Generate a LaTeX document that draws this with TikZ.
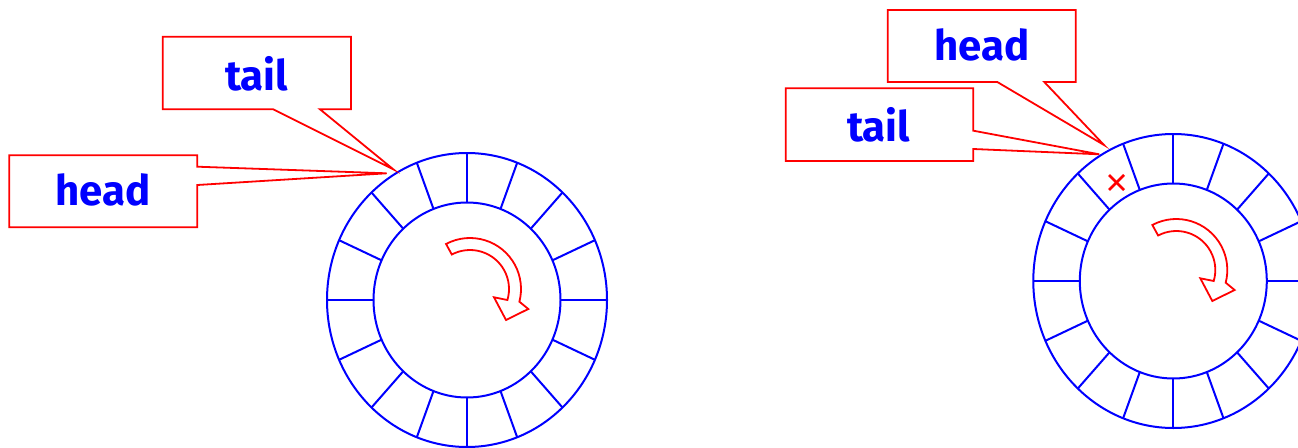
\documentclass[tikz,border=0pt]{standalone}
\usepackage{fontspec}
\setmainfont{Fira Sans}
\usetikzlibrary{calc}
\begin{document}
\begin{tikzpicture}[x=1pt,y=-1pt,
  ring/.style={draw=blue, line width=2pt},
  callout/.style={draw=red, line width=1.8pt, line join=miter},
  lbl/.style={text=blue, font=\fontsize{42}{50}\selectfont\bfseries, inner sep=0pt},
  turn/.style={draw=red, line width=1.8pt, line join=miter},
  crossline/.style={draw=red, line width=2.8pt}
]
\useasboundingbox (0,0) rectangle (1298,447);
\clip (0,0) rectangle (1298,447);

\coordinate (cL) at (467,300);
\coordinate (cR) at (1173.3,281);

\foreach \c in {cL,cR}{
  \draw[ring] (\c) ellipse [x radius=140pt, y radius=147pt];
  \draw[ring] (\c) ellipse [x radius=93.5pt, y radius=97.5pt];
  \foreach \t in {0,24,47,69,90,111,133,156,180,204,227,249,270,291,313,336}
    \draw[ring] ($(\c)+(\t:93.5pt and 97.5pt)$) -- ($(\c)+(\t:140pt and 147pt)$);
  \coordinate (a) at ($(\c)+(3pt,11pt)$);
  \draw[turn] ($(a)+(118:51pt)$) arc[start angle=118, end angle=-14.4, radius=51pt]
     -- ($(a)+(58.3pt,-20pt)$) -- ($(a)+(36pt,-31pt)$) -- ($(a)+(24pt,-8.3pt)$)
     -- ($(a)+(-16.4:39pt)$) arc[start angle=-16.4, end angle=117.8, radius=39pt] -- cycle;
}

% left callouts
\draw[callout] (162.7,36.7) -- (351,36.7) -- (351,109.3) -- (320,109.3) -- (393.3,169.3) -- (273.3,109.3) -- (162.7,109.3) -- cycle;
\node[lbl] (tailL) at (256.7,74) {tail};
\draw[callout] (9.3,155.3) -- (197.3,155.3) -- (197.3,166.7) -- (386.7,173.3) -- (197.3,185) -- (197.3,227.3) -- (9.3,227.3) -- cycle;
\node[lbl] (headL) at (103,190) {head};

% right callouts
\draw[callout] (887.7,10) -- (1075.7,10) -- (1075.7,82) -- (1044.3,82) -- (1104,145) -- (997.3,82) -- (887.7,82) -- cycle;
\node[lbl] (headR) at (981.7,45) {head};
\draw[callout] (785.7,88.3) -- (973.3,88.3) -- (973.3,130.7) -- (1099.3,154.3) -- (973.3,149) -- (973.3,161) -- (785.7,161) -- cycle;
\node[lbl] (tailR) at (878.7,125) {tail};

% cross mark
\coordinate (x) at (1116.5,182.5);
\draw[crossline] ($(x)+(-7.5pt,7.5pt)$) -- ($(x)+(7.5pt,-7.5pt)$);
\draw[crossline] ($(x)+(-7.5pt,-7.5pt)$) -- ($(x)+(7.5pt,7.5pt)$);
\end{tikzpicture}
\end{document}
